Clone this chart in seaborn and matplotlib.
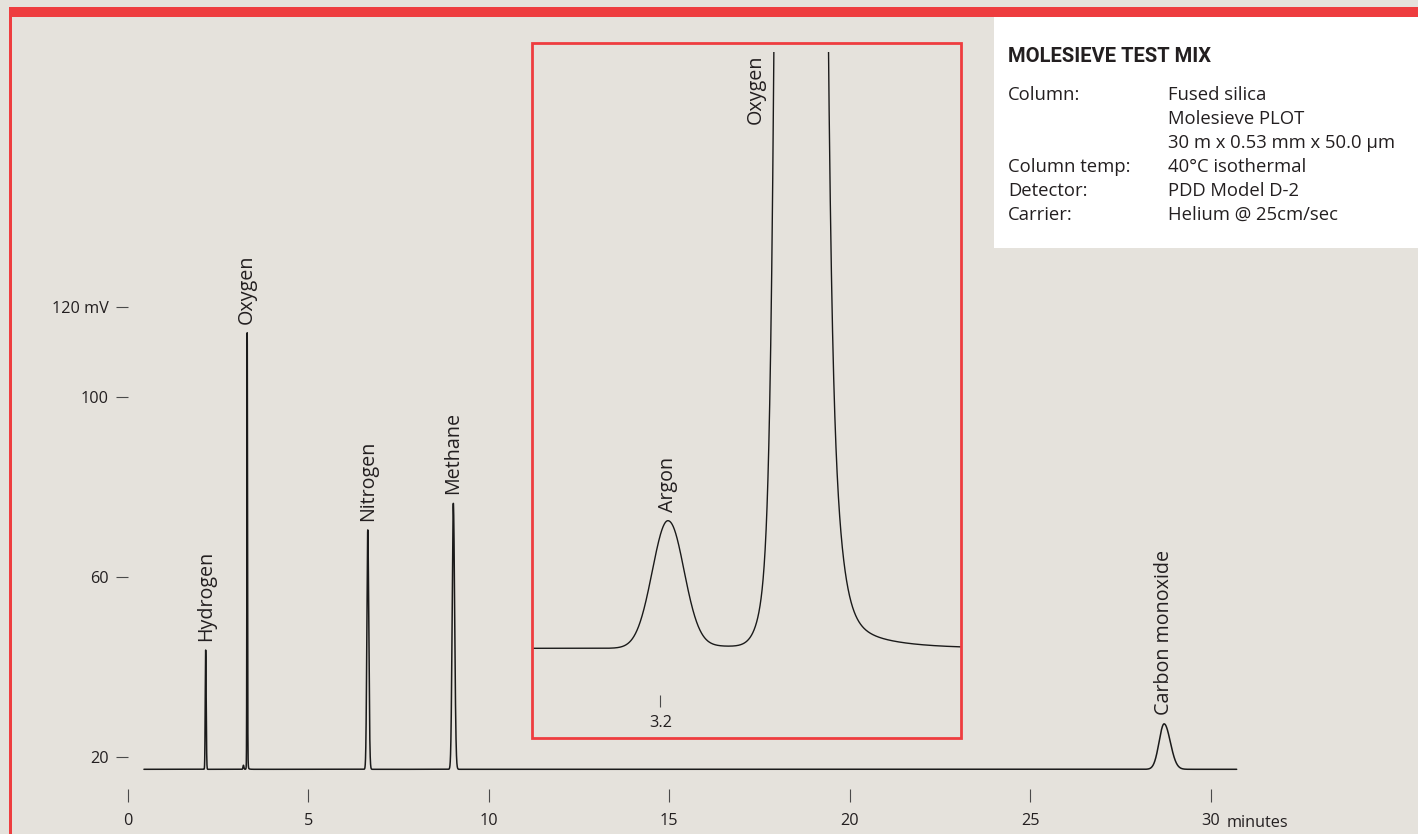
import numpy as np
import pandas as pd
import matplotlib
matplotlib.use("Agg")
import matplotlib.pyplot as plt
import seaborn as sns
from matplotlib.patches import Rectangle

# ---------------- data ----------------
peak_names   = ["Hydrogen", "Argon", "Oxygen", "Nitrogen", "Methane", "Carbon monoxide"]
peak_times   = [2.16, 3.206, 3.31, 6.65, 9.02, 28.71]      # retention time, min
peak_tops    = [43.7, 18.1, 114.2, 70.4, 76.3, 27.3]       # apex signal, mV
peak_sigma_l = [0.012, 0.0123, 0.0079, 0.025, 0.032, 0.14]  # leading width, min
peak_sigma_r = [0.014, 0.0123, 0.0079, 0.028, 0.036, 0.17]  # trailing width, min
baseline_mv  = 17.2
run_start, run_end = 0.45, 30.72

# oxygen shoulder and tailing
shoulder_time, shoulder_height, shoulder_sigma = 3.31, 3.0, 0.0142
tail_times = [3.206, 3.31, 3.31]
tail_amps  = [0.025, 30.0, 0.49]
tail_taus  = [0.079, 0.0074, 0.0315]
tail_rise  = [0.006, 0.008, 0.008]

x_ticks = [0, 5, 10, 15, 20, 25, 30]
y_ticks = [20, 60, 100, 120]
y_tick_labels = ["20", "60", "100", "120 mV"]
inset_ticks = [3.2]
main_labels = ["Hydrogen", "Oxygen", "Nitrogen", "Methane", "Carbon monoxide"]

info_title = "MOLESIEVE TEST MIX"
info_keys = ["Column:", "", "", "Column temp:", "Detector:", "Carrier:"]
info_vals = ["Fused silica", "Molesieve PLOT", "30 m x 0.53 mm x 50.0 \u00b5m",
             "40\u00b0C isothermal", "PDD Model D-2", "Helium @ 25cm/sec"]

# ---------------- style ----------------
BG = "#E5E2DC"
RED = "#EE3D3F"
INK = "#231F20"
TICK = "#4a4a4a"
sns.set_style("white")
plt.rcParams["font.family"] = ["Open Sans", "DejaVu Sans"]
plt.rcParams["text.color"] = INK

W, H = 1418, 834
def fx(px): return px / W
def fy(py): return 1 - py / H


def others(t):
    s = shoulder_height * np.exp(-0.5 * ((t - shoulder_time) / shoulder_sigma) ** 2)
    for tt, a, tau, w in zip(tail_times, tail_amps, tail_taus, tail_rise):
        dt = np.maximum(t - tt, 0)
        s = s + a * np.exp(-dt / tau) * (1 - np.exp(-(dt / w) ** 2))
    return s


def signal(t):
    y = baseline_mv + others(t)
    for rt, top, sl, sr in zip(peak_times, peak_tops, peak_sigma_l, peak_sigma_r):
        h = top - baseline_mv - others(np.array([rt]))[0]
        sig = np.where(t < rt, sl, sr)
        y = y + h * np.exp(-0.5 * ((t - rt) / sig) ** 2)
    return y


t_main = np.arange(run_start, run_end, 0.0005)
df_main = pd.DataFrame({"time": t_main, "signal": signal(t_main)})

# ---------------- figure ----------------
fig = plt.figure(figsize=(W / 100, H / 100), dpi=100, facecolor=BG)

# frame decorations
fig.add_artist(Rectangle((fx(9), fy(17)), 1 - fx(9), fy(7) - fy(17), transform=fig.transFigure,
                         fc=RED, ec="none", zorder=0))
fig.add_artist(Rectangle((fx(9), 0), fx(3), fy(7), transform=fig.transFigure,
                         fc=RED, ec="none", zorder=0))

# main axes
PX_MIN, PX_MV = 36.1, 4.5
x0_px, x1_px, top_px, bot_px = 127.7, 1300, 20, 789
ax = fig.add_axes([fx(x0_px), fy(bot_px), fx(x1_px) - fx(x0_px), fy(top_px) - fy(bot_px)])
ax.set_facecolor("none")
sns.lineplot(data=df_main, x="time", y="signal", ax=ax, color="#1a1a1a", lw=1.1,
             estimator=None, sort=False)
ax.set_xlim(0, (x1_px - x0_px) / PX_MIN)
ax.set_ylim(20 - (bot_px - 756.7) / PX_MV, 20 + (756.7 - top_px) / PX_MV)
for s in ax.spines.values():
    s.set_visible(False)
ax.set_xlabel("")
ax.set_ylabel("")
ax.set_xticks(x_ticks)
ax.set_xticklabels([str(v) for v in x_ticks])
ax.set_yticks(y_ticks)
ax.set_yticklabels(y_tick_labels)
ax.tick_params(axis="x", direction="out", length=9.1, width=0.8, color=TICK,
               pad=8, labelsize=11.7, labelcolor=INK, bottom=True)
ax.tick_params(axis="y", direction="out", length=8.6, width=0.8, color=TICK,
               pad=5, labelsize=11.7, labelcolor=INK, left=True)
ax.annotate("minutes", xy=(x_ticks[-1], 0), xycoords=("data", "axes fraction"),
            xytext=(15.5, -37.7), textcoords="offset pixels", ha="left", va="baseline",
            fontsize=11.7, color=INK)

for name in main_labels:
    i = peak_names.index(name)
    ax.annotate(name, xy=(peak_times[i], peak_tops[i]), xytext=(0, 9),
                textcoords="offset pixels", rotation=90, ha="center", va="bottom",
                fontsize=14.2, color=INK)

# inset
IPX_MIN, IPX_MV = 1270.0, 141.8
il, ir, it, ib = 531.7, 960.7, 52, 738
tick_px, base_px = 660.3, 648.3
axi = fig.add_axes([fx(il), fy(ib), fx(ir) - fx(il), fy(it) - fy(ib)])
axi.set_facecolor("none")
xlo = inset_ticks[0] - (tick_px - il) / IPX_MIN
xhi = inset_ticks[0] + (ir - tick_px) / IPX_MIN
t_in = np.arange(xlo - 0.002, xhi + 0.002, 0.0001)
df_in = pd.DataFrame({"time": t_in, "signal": signal(t_in)})
sns.lineplot(data=df_in, x="time", y="signal", ax=axi, color="#1a1a1a", lw=1.0,
             estimator=None, sort=False)
axi.set_xlim(xlo, xhi)
axi.set_ylim(baseline_mv - (ib - base_px) / IPX_MV, baseline_mv + (base_px - it) / IPX_MV)
for s in axi.spines.values():
    s.set_visible(False)
axi.set_xticks([])
axi.set_yticks([])
axi.set_xlabel("")
axi.set_ylabel("")
sec = axi.secondary_xaxis((ib - 695) / (ib - it))
sec.set_xticks(inset_ticks)
sec.set_xticklabels([str(v) for v in inset_ticks])
for s in sec.spines.values():
    s.set_visible(False)
sec.tick_params(axis="x", direction="out", length=8.6, width=0.8, color=TICK,
                pad=6, labelsize=11.7, labelcolor=INK)

ia = peak_names.index("Argon")
axi.annotate("Argon", xy=(peak_times[ia], peak_tops[ia]), xytext=(0, 9),
             textcoords="offset pixels", rotation=90, ha="center", va="bottom",
             fontsize=14.2, color=INK)
io = peak_names.index("Oxygen")
axi.annotate("Oxygen", xy=(peak_times[io], 1.0), xycoords=("data", "axes fraction"),
             xytext=(-44, -3), textcoords="offset pixels", rotation=90, ha="center",
             va="top", fontsize=14.2, color=INK)

fig.add_artist(Rectangle((fx(il), fy(ib)), fx(ir) - fx(il), fy(43.3) - fy(ib),
                         transform=fig.transFigure, fill=False, ec=RED, lw=2.0, zorder=5))

# info box
fig.add_artist(Rectangle((fx(994), fy(247.7)), 1 - fx(994), fy(17) - fy(247.7),
                         transform=fig.transFigure, fc="white", ec="none", zorder=6))
fig.text(fx(1008.3), fy(61.7), info_title, ha="left", va="baseline", fontsize=14.5,
         fontweight="bold", family=["Roboto", "DejaVu Sans"], color=INK, zorder=7)
row_baselines = [100, 124, 148, 172, 196, 220]
for k, v, yb in zip(info_keys, info_vals, row_baselines):
    if k:
        fig.text(fx(1008.3), fy(yb), k, ha="left", va="baseline", fontsize=13.3, color=INK, zorder=7)
    fig.text(fx(1168.3), fy(yb), v, ha="left", va="baseline", fontsize=13.3, color=INK, zorder=7)

fig.savefig("out.png", dpi=100, facecolor=BG)
